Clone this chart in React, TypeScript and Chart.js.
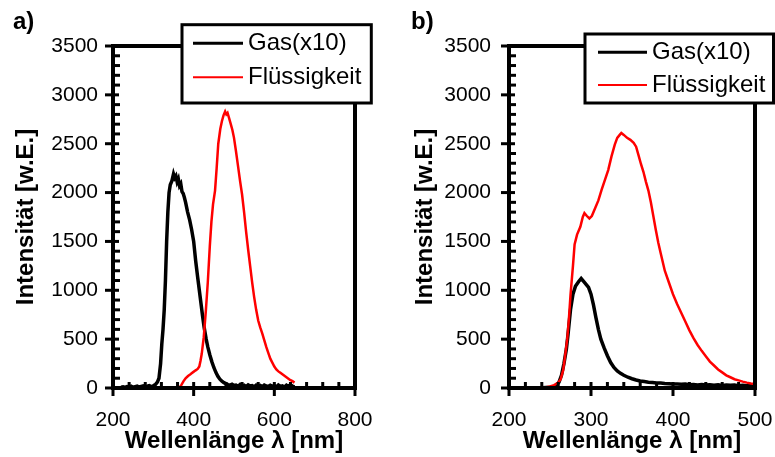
import React, { useEffect, useRef } from "react";
import { Chart, registerables } from "chart.js";

Chart.register(...registerables);

// ---------------- data ----------------
const seriesLabels = ["Gas(x10)", "Flüssigkeit"];
const panelLabels = ["a)", "b)"];
const xTitle = "Wellenlänge λ [nm]";
const yTitle = "Intensität [w.E.]";

const xTicksA = [200, 400, 600, 800];
const xTicksB = [200, 300, 400, 500];
const yTicks = [0, 500, 1000, 1500, 2000, 2500, 3000, 3500];

// panel a: gas (x10), black  [nm, intensity]
const gasA: [number, number][] = [
  [220, 8], [225, 12], [230, 6], [235, 15], [240, 10], [245, 18], [250, 8], [255, 14],
  [260, 20], [265, 10], [270, 16], [275, 22], [280, 12], [285, 18], [290, 25], [295, 15],
  [300, 22], [305, 35], [310, 60], [314, 100], [318, 250], [321, 450], [324, 600], [327, 800],
  [330, 1100], [333, 1500], [336, 1800], [339, 2000], [342, 2080], [346, 2120], [350, 2190],
  [353, 2150], [356, 2170], [359, 2110], [362, 2140], [365, 2070], [368, 2090], [371, 2010],
  [374, 1990], [377, 1950], [380, 1900], [385, 1800], [390, 1720], [395, 1620], [400, 1500],
  [405, 1300], [410, 1130], [414, 1000], [418, 870], [422, 740], [426, 620], [431, 500],
  [435, 420], [440, 340], [445, 270], [450, 210], [455, 160], [460, 120], [465, 90],
  [470, 70], [475, 55], [480, 45], [485, 35], [490, 30], [495, 38], [500, 25], [505, 30],
  [510, 18], [515, 35], [520, 20], [525, 28], [530, 15], [535, 32], [540, 20], [545, 25],
  [550, 12], [555, 30], [560, 18], [565, 26], [570, 14], [575, 30], [580, 20], [585, 15],
  [590, 28], [595, 18], [600, 24], [605, 12], [610, 30], [615, 16], [620, 22], [625, 10],
  [630, 28], [635, 15], [640, 35], [645, 20], [650, 12],
];

// panel a: liquid, red
const liqA: [number, number][] = [
  [220, 0], [250, 0], [300, 0], [340, 0], [362, 0], [366, 10], [370, 35], [375, 70],
  [380, 100], [386, 123], [392, 140], [398, 160], [404, 178], [410, 195], [414, 220],
  [417, 280], [420, 350], [425, 520], [430, 780], [435, 1080], [440, 1450], [444, 1700],
  [448, 1880], [453, 2020], [457, 2250], [461, 2500], [466, 2650], [470, 2730], [474, 2790],
  [478, 2830], [481, 2800], [484, 2815], [488, 2760], [492, 2700], [496, 2640], [500, 2560],
  [505, 2420], [510, 2270], [515, 2120], [520, 1980], [525, 1800], [530, 1600], [535, 1420],
  [540, 1250], [545, 1080], [550, 930], [555, 800], [560, 690], [565, 620], [570, 560],
  [575, 490], [580, 420], [585, 360], [590, 300], [595, 260], [600, 220], [605, 190],
  [610, 170], [615, 155], [620, 140], [625, 125], [630, 110], [635, 95], [640, 80],
  [645, 70], [650, 55],
];

// panel b: gas (x10), black
const gasB: [number, number][] = [
  [220, 0], [230, 0], [240, 2], [250, 8], [255, 15], [258, 30], [261, 60], [264, 130],
  [267, 250], [270, 400], [272, 550], [275, 800], [278, 960], [281, 1040], [285, 1090],
  [288, 1120], [291, 1090], [294, 1060], [297, 1030], [300, 960], [303, 850], [306, 720],
  [309, 600], [312, 500], [316, 410], [320, 330], [324, 260], [328, 210], [332, 175],
  [336, 150], [340, 130], [345, 110], [350, 95], [355, 82], [360, 72], [365, 66], [370, 60],
  [375, 56], [380, 52], [385, 50], [390, 46], [395, 44], [400, 42], [405, 40], [410, 38],
  [415, 40], [420, 34], [425, 37], [430, 32], [435, 36], [440, 30], [445, 34], [450, 28],
  [455, 33], [460, 26], [465, 31], [470, 27], [475, 30], [480, 24], [485, 28], [490, 22],
  [495, 27], [500, 20],
];

// panel b: liquid, red
const liqB: [number, number][] = [
  [220, 0], [230, 0], [240, 3], [245, 8], [250, 15], [255, 30], [260, 55], [263, 90],
  [266, 180], [268, 300], [271, 500], [273, 700], [275, 950], [278, 1250], [280, 1470],
  [283, 1570], [287, 1650], [290, 1750], [292, 1790], [295, 1760], [298, 1735], [301, 1760],
  [305, 1840], [309, 1920], [313, 2030], [317, 2130], [321, 2230], [325, 2370], [329, 2490],
  [332, 2560], [335, 2590], [337, 2610], [340, 2590], [344, 2560], [348, 2540], [352, 2510],
  [355, 2470], [358, 2380], [361, 2290], [364, 2210], [367, 2110], [370, 2020], [373, 1900],
  [376, 1760], [379, 1620], [382, 1490], [385, 1380], [390, 1200], [395, 1080], [400, 960],
  [405, 860], [410, 770], [415, 680], [420, 590], [425, 510], [430, 440], [435, 380],
  [440, 325], [445, 270], [450, 230], [455, 190], [460, 160], [465, 130], [470, 110],
  [475, 90], [480, 78], [485, 65], [490, 55], [495, 47], [500, 40],
];

// ---------------- layout / style ----------------
const FONT = "'Liberation Sans', Arial, Helvetica, sans-serif";
const CANVAS_H = 480;
const PLOT_TOP = 46;
const PLOT_BOTTOM = 388;

type PanelSpec = {
  label: string;
  gas: [number, number][];
  liq: [number, number][];
  xTicks: number[];
  xMinor: number;
  canvasLeft: number;
  canvasWidth: number;
  yAxisWidth: number;
  padRight: number;
  yTitlePad: number;
  yTickPad: number;
  labelX: number;
  legend: {
    left: number; top: number; right: number; bottom: number;
    lineX0: number; lineX1: number; textX: number; rows: number[];
  };
};

const panelA: PanelSpec = {
  label: panelLabels[0],
  gas: gasA,
  liq: liqA,
  xTicks: xTicksA,
  xMinor: 40,
  canvasLeft: 0,
  canvasWidth: 390,
  yAxisWidth: 113,
  padRight: 35,
  yTitlePad: 11.6,
  yTickPad: 15,
  labelX: 13,
  legend: { left: 182, top: 24.7, right: 371.3, bottom: 103, lineX0: 193, lineX1: 243, textX: 248, rows: [43.3, 77.3] },
};

const panelB: PanelSpec = {
  label: panelLabels[1],
  gas: gasB,
  liq: liqB,
  xTicks: xTicksB,
  xMinor: 20,
  canvasLeft: 390,
  canvasWidth: 385,
  yAxisWidth: 119,
  padRight: 20,
  yTitlePad: 20.6,
  yTickPad: 18,
  labelX: 21,
  legend: { left: 195, top: 34, right: 383.5, bottom: 103, lineX0: 208, lineX1: 257, textX: 262, rows: [52.3, 85] },
};

function framePlugin(p: PanelSpec) {
  return {
    id: "frameAndLegend",
    afterDatasetsDraw(chart: any) {
      const { ctx, chartArea } = chart;
      const { left, right, top, bottom } = chartArea;
      const xs = chart.scales.x;
      const ys = chart.scales.y;
      ctx.save();
      ctx.strokeStyle = "#000";
      ctx.lineCap = "butt";
      ctx.lineWidth = 3;
      // x ticks
      for (let v = xs.min; v <= xs.max + 1e-6; v += p.xMinor) {
        const px = xs.getPixelForValue(v);
        const major = p.xTicks.some((t) => Math.abs(t - v) < 1e-6);
        ctx.beginPath();
        if (major) {
          ctx.moveTo(px, bottom - 6);
          ctx.lineTo(px, bottom + 8);
        } else {
          ctx.moveTo(px, bottom - 6);
          ctx.lineTo(px, bottom);
        }
        ctx.stroke();
      }
      // y ticks
      for (let v = ys.min; v <= ys.max + 1e-6; v += 100) {
        const py = ys.getPixelForValue(v);
        const major = yTicks.some((t) => Math.abs(t - v) < 1e-6);
        ctx.beginPath();
        if (major) {
          ctx.moveTo(left - 8, py);
          ctx.lineTo(left + 6, py);
        } else {
          ctx.moveTo(left, py);
          ctx.lineTo(left + 7, py);
        }
        ctx.stroke();
      }
      // frame
      ctx.lineWidth = 4;
      ctx.lineJoin = "miter";
      ctx.strokeRect(left, top, right - left, bottom - top);
      ctx.restore();
    },
    afterDraw(chart: any) {
      const { ctx } = chart;
      const lg = p.legend;
      ctx.save();
      ctx.fillStyle = "#fff";
      ctx.fillRect(lg.left, lg.top, lg.right - lg.left, lg.bottom - lg.top);
      ctx.strokeStyle = "#000";
      ctx.lineWidth = 3;
      ctx.strokeRect(lg.left, lg.top, lg.right - lg.left, lg.bottom - lg.top);
      chart.data.datasets.forEach((ds: any, i: number) => {
        const y = lg.rows[i];
        ctx.strokeStyle = ds.borderColor;
        ctx.lineWidth = i === 0 ? 3 : 2;
        ctx.beginPath();
        ctx.moveTo(lg.lineX0, y);
        ctx.lineTo(lg.lineX1, y);
        ctx.stroke();
        ctx.fillStyle = "#000";
        ctx.font = `24px ${FONT}`;
        ctx.textBaseline = "middle";
        ctx.textAlign = "left";
        ctx.fillText(ds.label, lg.textX, y);
      });
      // panel label
      ctx.fillStyle = "#000";
      ctx.font = `bold 24px ${FONT}`;
      ctx.textBaseline = "alphabetic";
      ctx.textAlign = "left";
      ctx.fillText(p.label, p.labelX, 29);
      ctx.restore();
    },
  };
}

function buildConfig(p: PanelSpec): any {
  return {
    type: "line",
    data: {
      datasets: [
        {
          label: seriesLabels[0],
          data: p.gas.map(([x, y]) => ({ x, y })),
          borderColor: "#000000",
          borderWidth: 3.5,
          pointRadius: 0,
          tension: 0,
          order: 1,
        },
        {
          label: seriesLabels[1],
          data: p.liq.map(([x, y]) => ({ x, y })),
          borderColor: "#ff0000",
          borderWidth: 2.5,
          pointRadius: 0,
          tension: 0,
          order: 0,
        },
      ],
    },
    options: {
      responsive: false,
      animation: false,
      events: [],
      layout: { padding: { left: 0, top: PLOT_TOP, right: p.padRight, bottom: 0 } },
      plugins: { legend: { display: false }, tooltip: { enabled: false }, title: { display: false } },
      scales: {
        x: {
          type: "linear",
          min: p.xTicks[0],
          max: p.xTicks[p.xTicks.length - 1],
          afterBuildTicks: (s: any) => {
            s.ticks = p.xTicks.map((v) => ({ value: v }));
          },
          afterFit: (s: any) => {
            s.height = CANVAS_H - PLOT_BOTTOM;
            s.paddingLeft = 0;
            s.paddingRight = 0;
          },
          grid: { display: false, drawTicks: false },
          border: { display: false },
          ticks: {
            color: "#000",
            font: { family: FONT, size: 21 },
            padding: 20,
            maxRotation: 0,
            autoSkip: false,
            callback: (v: any) => String(v),
          },
          title: {
            display: true,
            text: xTitle,
            color: "#000",
            font: { family: FONT, size: 24, weight: "bold" },
            padding: { top: 0, bottom: 24 },
          },
        },
        y: {
          type: "linear",
          min: yTicks[0],
          max: yTicks[yTicks.length - 1],
          afterBuildTicks: (s: any) => {
            s.ticks = yTicks.map((v) => ({ value: v }));
          },
          afterFit: (s: any) => {
            s.width = p.yAxisWidth;
            s.paddingTop = 0;
            s.paddingBottom = 0;
          },
          grid: { display: false, drawTicks: false },
          border: { display: false },
          ticks: {
            color: "#000",
            font: { family: FONT, size: 21 },
            padding: p.yTickPad,
            autoSkip: false,
            callback: (v: any) => String(v),
          },
          title: {
            display: true,
            text: yTitle,
            color: "#000",
            font: { family: FONT, size: 24, weight: "bold" },
            padding: { top: p.yTitlePad, bottom: 0 },
          },
        },
      },
    },
    plugins: [framePlugin(p)],
  };
}

function Panel({ spec }: { spec: PanelSpec }) {
  const ref = useRef<HTMLCanvasElement | null>(null);
  useEffect(() => {
    if (!ref.current) return;
    const chart = new Chart(ref.current, buildConfig(spec));
    return () => chart.destroy();
  }, [spec]);
  return (
    <canvas
      ref={ref}
      width={spec.canvasWidth}
      height={CANVAS_H}
      style={{
        position: "absolute",
        left: spec.canvasLeft,
        top: 0,
        width: spec.canvasWidth,
        height: CANVAS_H,
        display: "block",
      }}
    />
  );
}

export default function App() {
  return (
    <div
      style={{
        position: "fixed",
        left: 0,
        top: 0,
        width: 775,
        height: 457,
        overflow: "hidden",
        background: "#fff",
      }}
    >
      <Panel spec={panelA} />
      <Panel spec={panelB} />
    </div>
  );
}
